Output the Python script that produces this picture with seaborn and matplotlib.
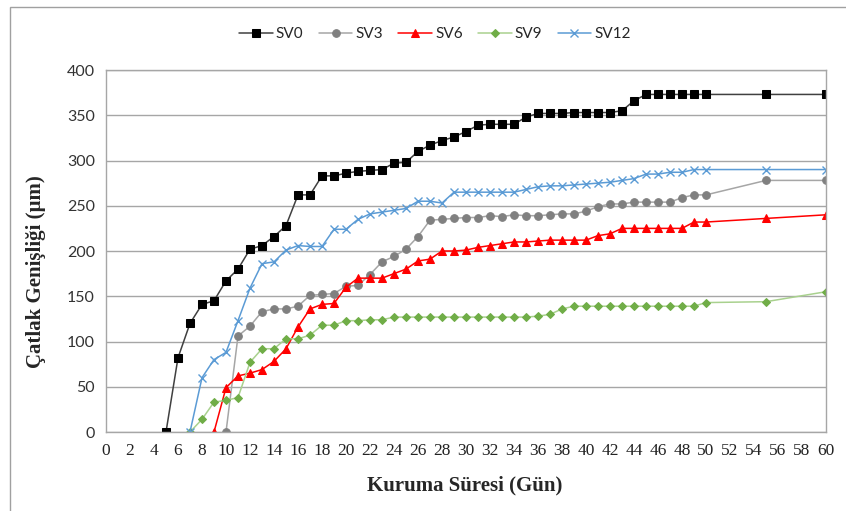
import matplotlib
matplotlib.use("Agg")
import matplotlib.pyplot as plt
import matplotlib.patches as mpatches
import pandas as pd
import seaborn as sns

# Kuruma süresi (gün) ve çatlak genişliği (µm) değerleri
SV0_DAYS = list(range(5, 51)) + [55, 60]
SV0_VALUES = [0, 82, 120, 141, 145, 167, 180, 202, 206, 216, 228, 262, 262, 283, 283, 286,
              288, 289, 290, 297, 298, 310, 317, 322, 326, 332, 339, 340, 340, 340, 348, 352,
              352, 352, 353, 353, 353, 353, 355, 366, 373, 373, 373, 373, 373, 373, 373, 373]

SV3_DAYS = list(range(10, 51)) + [55, 60]
SV3_VALUES = [0, 106, 117, 133, 136, 136, 139, 151, 152, 153, 161, 162, 174, 188, 194, 202,
              216, 234, 235, 236, 237, 237, 239, 238, 240, 239, 239, 240, 241, 241, 244, 249,
              252, 252, 254, 254, 254, 254, 259, 262, 262, 278, 278]

SV6_DAYS = list(range(9, 51)) + [55, 60]
SV6_VALUES = [0, 49, 62, 65, 69, 78, 92, 116, 136, 141, 142, 160, 170, 170, 170, 175, 180,
              189, 191, 200, 200, 201, 204, 206, 208, 210, 210, 211, 212, 212, 212, 212, 217,
              219, 225, 225, 225, 225, 225, 225, 232, 232, 236, 240]

SV9_DAYS = list(range(7, 51)) + [55, 60]
SV9_VALUES = [0, 14, 33, 35, 38, 77, 92, 92, 103, 103, 107, 118, 118, 123, 123, 124, 124,
              127, 127, 127, 127, 127, 127, 127, 127, 127, 127, 127, 127, 128, 130, 136, 139,
              139, 139, 139, 139, 139, 139, 139, 139, 139, 139, 143, 144, 155]

SV12_DAYS = list(range(7, 51)) + [55, 60]
SV12_VALUES = [0, 60, 80, 88, 123, 159, 186, 188, 201, 206, 205, 205, 224, 224, 235, 241,
               243, 245, 247, 255, 255, 253, 265, 265, 265, 265, 265, 265, 268, 271, 272, 272,
               273, 274, 275, 276, 278, 280, 285, 285, 287, 287, 290, 290, 290, 290]

X_TICKS = list(range(0, 61, 2))
Y_TICKS = list(range(0, 401, 50))

SERIES = [
    ("SV0", SV0_DAYS, SV0_VALUES, dict(color="#404040", marker="s", markersize=6,
                                       markerfacecolor="black", markeredgecolor="black")),
    ("SV3", SV3_DAYS, SV3_VALUES, dict(color="#a6a6a6", marker="o", markersize=5.5,
                                       markerfacecolor="#808080", markeredgecolor="#808080")),
    ("SV6", SV6_DAYS, SV6_VALUES, dict(color="#ff0000", marker="^", markersize=6,
                                       markerfacecolor="#ff0000", markeredgecolor="#ff0000")),
    ("SV9", SV9_DAYS, SV9_VALUES, dict(color="#a9d18e", marker="D", markersize=4.2,
                                       markerfacecolor="#70ad47", markeredgecolor="#70ad47")),
    ("SV12", SV12_DAYS, SV12_VALUES, dict(color="#5b9bd5", marker="x", markersize=6,
                                          markeredgecolor="#5b9bd5", markeredgewidth=1)),
]

sns.set_style("white")

W, H = 846, 511
fig = plt.figure(figsize=(W / 100, H / 100), dpi=100)
ax = fig.add_axes([106 / W, 1 - 432 / H, (826 - 106) / W, (432 - 70) / H])

for name, days, values, style in SERIES:
    df = pd.DataFrame({"Gün": days, "Genişlik": values})
    sns.lineplot(data=df, x="Gün", y="Genişlik", ax=ax, label=name, linewidth=1.1, **style)

ax.set_xlim(0, 60)
ax.set_ylim(0, 400)
ax.set_xticks(X_TICKS)
ax.set_yticks(Y_TICKS)
ax.grid(axis="y", color="#a6a6a6", linewidth=1)
ax.grid(axis="x", visible=False)
ax.set_axisbelow(True)
for sp in ax.spines.values():
    sp.set_color("#a6a6a6")
    sp.set_linewidth(1)
ax.tick_params(length=0, pad=8)
for lbl in ax.get_xticklabels():
    lbl.set_fontfamily("Liberation Serif")
    lbl.set_fontsize(12.5)
    lbl.set_color("#222222")
for lbl in ax.get_yticklabels():
    lbl.set_fontfamily("Lato")
    lbl.set_fontsize(11.5)
    lbl.set_color("#333333")
ax.set_xlabel("")
ax.set_ylabel("")
ax.get_legend().remove()

fig.text(465 / W, 1 - 485 / H, "Kuruma Süresi (Gün)", ha="center", va="center",
         fontfamily="Liberation Serif", fontweight="bold", fontsize=15)
fig.text(36 / W, 1 - 272 / H, "Çatlak Genişliği (µm)", ha="center", va="center",
         rotation=90, fontfamily="Liberation Serif", fontweight="bold", fontsize=15)

handles, labels = ax.get_legend_handles_labels()
leg = fig.legend(handles, labels, loc="center", bbox_to_anchor=(435 / W, 1 - 34 / H), ncol=5,
                 frameon=False, handlelength=2.2, handletextpad=0.2, columnspacing=1.0,
                 prop={"family": "Lato", "size": 11})

fig.patches.append(mpatches.Rectangle((10 / W, -0.1), 1.2, 1.1 - 7 / H, transform=fig.transFigure,
                                      fill=False, edgecolor="#a0a0a0", linewidth=1))

fig.savefig("out.png", dpi=100)
